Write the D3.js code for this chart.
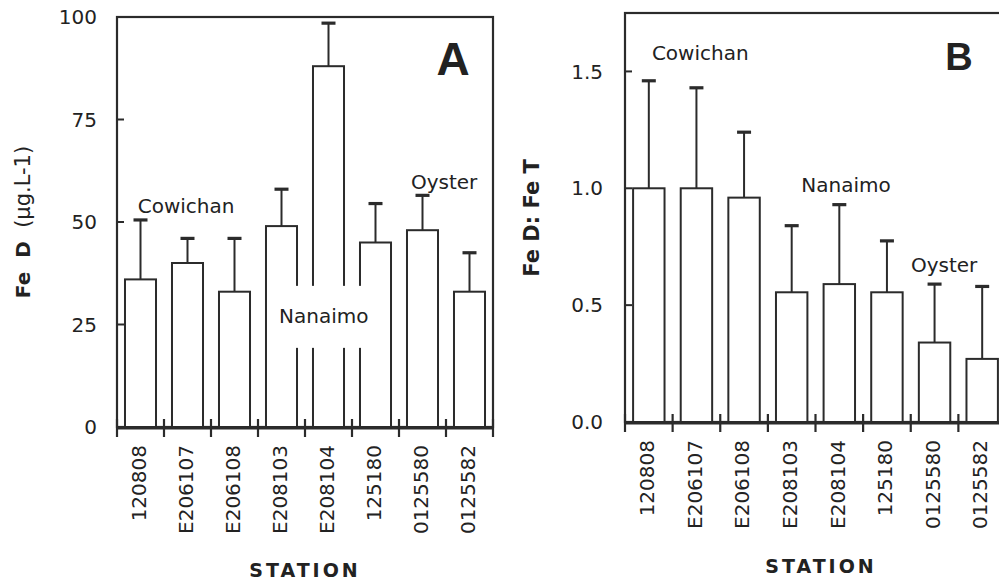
<!DOCTYPE html>
<meta charset="utf-8">
<script src="https://d3js.org/d3.v7.min.js"></script>
<style>
body { margin: 0; background: #fff; }
text { font-family: "DejaVu Sans", sans-serif; fill: #222; }
.letter { font-family: "Liberation Sans", Arial, sans-serif; font-weight: bold; }
</style>
<body>
<script>

// stations along the x axis (same for both panels)
var stations = ["120808", "E206107", "E206108", "E208103", "E208104", "125180", "0125580", "0125582"];

// panel A: dissolved Fe (ug/L), mean and upper error
var feD = [36, 40, 33, 49, 88, 45, 48, 33];
var feDErr = [14.5, 6, 13, 9, 10.5, 9.5, 8.5, 9.5];
var feDTicks = [0, 25, 50, 75, 100];

// panel B: ratio dissolved : total Fe
var ratio = [1.0, 1.0, 0.96, 0.555, 0.59, 0.555, 0.34, 0.27];
var ratioErr = [0.46, 0.43, 0.28, 0.285, 0.34, 0.22, 0.25, 0.31];
var ratioTicks = [0, 0.5, 1.0, 1.5];

// river group labels: [name, station position (band index), value]
var groupsA = [["Cowichan", 1.47, 52.3], ["Nanaimo", 4.4, 25.4], ["Oyster", 6.96, 58]];
var groupsB = [["Cowichan", 1.58, 1.547], ["Nanaimo", 4.64, 0.983], ["Oyster", 6.7, 0.64]];

var ink = "#2b2b2b";

var svg = d3.select("body")
    .append("svg")
    .attr("width", 999)
    .attr("height", 581);

function panel(o) {
    var x = d3.scaleBand().domain(stations)
        .range([o.left, o.right])
        .paddingInner(0.34).paddingOuter(0.17);
    var y = d3.scaleLinear().domain(o.domain).range([o.bottom, o.top]);
    var bw = x.bandwidth();
    var g = svg.append("g");
    var y0 = y(0);

    // frame
    g.append("rect")
        .attr("x", o.left).attr("y", y(o.domain[1]))
        .attr("width", o.right - o.left)
        .attr("height", y0 - y(o.domain[1]))
        .attr("fill", "none").attr("stroke", ink).attr("stroke-width", 2.2);

    // error bars
    var data = stations.map(function(s, i) { return {s: s, v: o.values[i], e: o.errors[i]}; });
    g.selectAll(".err").data(data).enter().append("line")
        .attr("x1", function(d) { return x(d.s) + bw / 2; })
        .attr("x2", function(d) { return x(d.s) + bw / 2; })
        .attr("y1", function(d) { return y(d.v); })
        .attr("y2", function(d) { return y(d.v + d.e); })
        .attr("stroke", ink).attr("stroke-width", 2);
    g.selectAll(".cap").data(data).enter().append("line")
        .attr("x1", function(d) { return x(d.s) + bw / 2 - 7; })
        .attr("x2", function(d) { return x(d.s) + bw / 2 + 7; })
        .attr("y1", function(d) { return y(d.v + d.e); })
        .attr("y2", function(d) { return y(d.v + d.e); })
        .attr("stroke", ink).attr("stroke-width", 3.2);

    // bars
    g.selectAll(".bar").data(data).enter().append("rect")
        .attr("x", function(d) { return x(d.s); })
        .attr("y", function(d) { return y(d.v); })
        .attr("width", bw)
        .attr("height", function(d) { return y0 - y(d.v); })
        .attr("fill", "#fff").attr("stroke", ink).attr("stroke-width", 2);

    // bottom axis + boundary ticks
    g.append("line").attr("x1", o.left).attr("x2", o.right)
        .attr("y1", y0 + 1).attr("y2", y0 + 1)
        .attr("stroke", ink).attr("stroke-width", 3);
    d3.range(stations.length + 1).forEach(function(i) {
        var bx = o.left + i * x.step();
        g.append("line").attr("x1", bx).attr("x2", bx)
            .attr("y1", y0 - 8).attr("y2", y0 + 10)
            .attr("stroke", ink).attr("stroke-width", 2.2);
    });

    // station labels
    g.selectAll(".xl").data(stations).enter().append("text")
        .attr("transform", function(d) {
            return "translate(" + (x(d) + bw / 2 - 2) + "," + (y0 + 18) + ") rotate(-90)";
        })
        .attr("text-anchor", "end").attr("dy", "0.36em")
        .style("font-size", "20px")
        .text(function(d) { return d; });

    // y ticks (inward, only between the frame edges) and labels
    o.ticks.forEach(function(t) {
        if (t > o.domain[0] && t < o.domain[1]) {
            g.append("line").attr("x1", o.left).attr("x2", o.left + 7)
                .attr("y1", y(t)).attr("y2", y(t))
                .attr("stroke", ink).attr("stroke-width", 2);
        }
        g.append("text")
            .attr("x", o.left - o.tickGap).attr("y", y(t))
            .attr("dy", "0.36em").attr("text-anchor", "end")
            .style("font-size", "20px")
            .text(o.fmt(t));
    });

    // group labels
    o.groups.forEach(function(gr) {
        var gx = o.left + gr[1] * x.step();
        var t = g.append("text")
            .attr("x", gx).attr("y", y(gr[2]))
            .attr("text-anchor", "middle")
            .style("font-size", "20px")
            .text(gr[0]);
        if (o.bg && o.bg === gr[0]) {
            var b = t.node().getBBox();
            g.insert("rect", "text")
                .attr("x", b.x - 4).attr("y", b.y - 18)
                .attr("width", b.width + 8).attr("height", b.height + 38)
                .attr("fill", "#fff");
        }
    });

    // panel letter
    g.append("text").attr("class", "letter")
        .attr("x", o.letterX).attr("y", o.letterY)
        .attr("text-anchor", "middle")
        .style("font-size", o.letterSize + "px")
        .text(o.letter);

    // x axis title
    g.append("text")
        .attr("x", o.stationX).attr("y", o.stationY)
        .attr("text-anchor", "middle")
        .style("font-size", "19px").style("font-weight", "bold")
        .style("letter-spacing", "3px")
        .text("STATION");

    // y axis title
    var yt = g.append("text")
        .attr("transform", "translate(" + o.yTitleX + "," + o.yTitleY + ") rotate(-90)")
        .attr("text-anchor", "middle").attr("dy", "0.36em");
    o.yTitle.forEach(function(p) {
        yt.append("tspan")
            .style("font-size", p[2] + "px")
            .style("font-weight", p[1] ? "bold" : "normal")
            .text(p[0]);
    });
}

panel({
    left: 117, right: 493, top: 17, bottom: 427,
    domain: [0, 100], values: feD, errors: feDErr, ticks: feDTicks,
    fmt: function(t) { return String(t); }, tickGap: 20,
    groups: groupsA, bg: "Nanaimo",
    letter: "A", letterX: 453, letterY: 75, letterSize: 46,
    stationX: 305, stationY: 577,
    yTitle: [["Fe\u00a0\u00a0D", true, 20], ["\u00a0\u00a0(\u00b5g.L-1)", false, 21]],
    yTitleX: 24, yTitleY: 222
});

panel({
    left: 625, right: 1006, top: 13, bottom: 422,
    domain: [0, 1.75], values: ratio, errors: ratioErr, ticks: ratioTicks,
    fmt: d3.format(".1f"), tickGap: 22,
    groups: groupsB, bg: null,
    letter: "B", letterX: 959, letterY: 70, letterSize: 38,
    stationX: 821, stationY: 573,
    yTitle: [["Fe D:\u00a0Fe T", true, 21]],
    yTitleX: 533, yTitleY: 218
});

</script>
</body>
</html>
